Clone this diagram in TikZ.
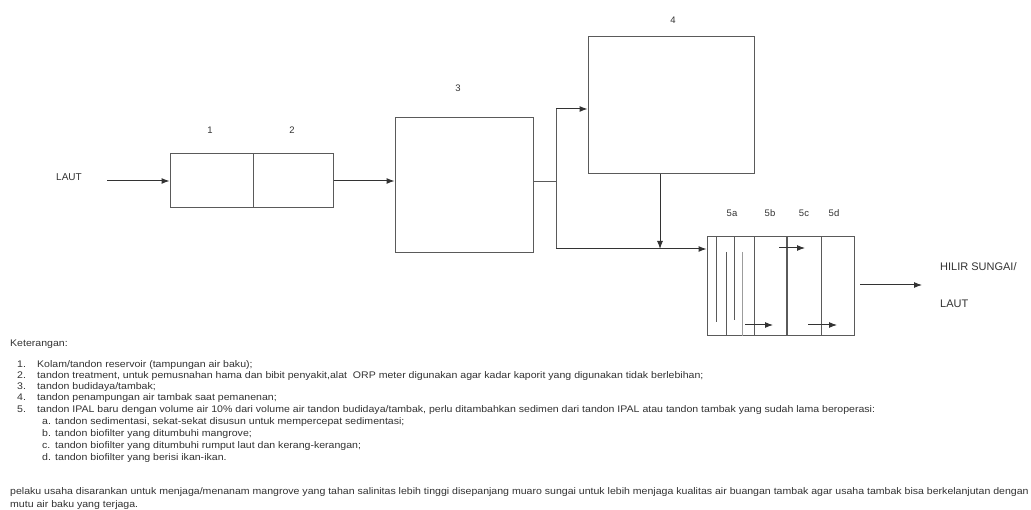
\documentclass[tikz,border=0pt]{standalone}
\usepackage{fontspec}
\setmainfont{Liberation Sans}
\newfontfamily\widesans[FakeStretch=1.1]{Liberation Sans}
\usetikzlibrary{arrows.meta}
\definecolor{linec}{HTML}{5A5A5A}
\definecolor{arrc}{HTML}{333333}
\definecolor{txtc}{HTML}{333333}
\begin{document}
\begin{tikzpicture}[x=1pt,y=-1pt,
  box/.style={draw=linec, line width=1pt, inner sep=0pt},
  conn/.style={draw=linec, line width=1pt},
  arr/.style={draw=arrc, line width=1pt, -{Latex[length=8pt,width=6pt]}},
  lbl/.style={font=\fontsize{9.5}{11}\selectfont, text=txtc, inner sep=0pt},
  big/.style={font=\fontsize{11}{12}\selectfont, text=txtc, inner sep=0pt, anchor=west},
  txt/.style={font=\widesans\fontsize{9.6}{10}\selectfont, text=txtc, inner sep=0pt, anchor=base west},
  inner/.style={draw=linec, line width=0.8pt},
]
\fill[white] (0,0) rectangle (1031,510);
\useasboundingbox (0,0) rectangle (1031,510);

% boxes
\node[box, minimum width=83, minimum height=54] (b1) at (211.5,181) {};
\node[box, minimum width=80, minimum height=54] (b2) at (293,181) {};
\node[box, minimum width=138, minimum height=135] (b3) at (464,185.5) {};
\node[box, minimum width=166, minimum height=137] (b4) at (671,105.5) {};
\node[box, minimum width=147, minimum height=99] (b5) at (780.5,286.5) {};
\draw[linec, line width=1.5pt] (b1.north east) -- (b1.south east);

% labels
\node[lbl] (l1) at (210,130) {1};
\node[lbl] (l2) at (292,130) {2};
\node[lbl] (l3) at (458,88) {3};
\node[lbl] (l4) at (673,20) {4};
\node[lbl] (l5a) at (732,213) {5a};
\node[lbl] (l5b) at (770,213) {5b};
\node[lbl] (l5c) at (804,213) {5c};
\node[lbl] (l5d) at (834,213) {5d};
\node[lbl, font=\fontsize{10}{11}\selectfont] (laut) at (69,177) {LAUT};
\node[big] (hilir) at (940,267) {HILIR SUNGAI/};
\node[big] (laut2) at (940,304) {LAUT};

% connectors
\coordinate (s0) at (107,181);
\coordinate (j1) at (556,182);
\coordinate (jt) at (556,109);
\coordinate (jb) at (556,249);
\coordinate (o1) at (860,285);
\coordinate (o2) at (922,285);
\draw[arr] (s0) -- (s0 -| b1.west);
\draw[arr] (b2.east |- s0) -- (s0 -| b3.west);
\draw[conn] (b3.east |- j1) -- (j1);
\draw[conn] (jt) -- (jb);
\draw[arr] (jt) -- (jt -| b4.west);
\draw[arr] (jb) -- (jb -| b5.west);
\draw[arr] ([xshift=-11pt]b4.south) -- ([xshift=-11pt]b4.south |- jb);
\draw[arr] (o1) -- (o2);

% inside box 5
\draw[inner] (716,237) -- (716,322);
\draw[inner] (726,252) -- (726,336);
\draw[inner] (734,237) -- (734,320);
\draw[inner, draw=linec!60] (742,252) -- (742,336);
\draw[inner] (754,237) -- (754,336);
\draw[linec, line width=1.8pt] (787,237) -- (787,336);
\draw[inner] (821,237) -- (821,336);
\draw[arr] (779,248) -- (805,248);
\draw[arr] (745,325) -- (773,325);
\draw[arr] (808,325) -- (837,325);

% legend text
\node[txt] (ket) at (10,346.5) {Keterangan:};
\node[txt] (n1) at (17,367.5) {1.};
\node[txt] (t1) at (37,367.5) {Kolam/tandon reservoir (tampungan air baku);};
\node[txt] (n2) at (17,378.5) {2.};
\node[txt] (t2) at (37,378.5) {tandon treatment, untuk pemusnahan hama dan bibit penyakit,alat\ \ ORP meter digunakan agar kadar kaporit yang digunakan tidak berlebihan;};
\node[txt] (n3) at (17,389.5) {3.};
\node[txt] (t3) at (37,389.5) {tandon budidaya/tambak;};
\node[txt] (n4) at (17,400.5) {4.};
\node[txt] (t4) at (37,400.5) {tandon penampungan air tambak saat pemanenan;};
\node[txt] (n5) at (17,412.5) {5.};
\node[txt] (t5) at (37,412.5) {tandon IPAL baru dengan volume air 10\% dari volume air tandon budidaya/tambak, perlu ditambahkan sedimen dari tandon IPAL atau tandon tambak yang sudah lama beroperasi:};
\node[txt] (na) at (42,424.5) {a.};
\node[txt] (ta) at (55,424.5) {tandon sedimentasi, sekat-sekat disusun untuk mempercepat sedimentasi;};
\node[txt] (nb) at (42,436.5) {b.};
\node[txt] (tb) at (55,436.5) {tandon biofilter yang ditumbuhi mangrove;};
\node[txt] (nc) at (42,448.5) {c.};
\node[txt] (tc) at (55,448.5) {tandon biofilter yang ditumbuhi rumput laut dan kerang-kerangan;};
\node[txt] (nd) at (42,460.5) {d.};
\node[txt] (td) at (55,460.5) {tandon biofilter yang berisi ikan-ikan.};
\node[txt] (p1) at (10,494.5) {pelaku usaha disarankan untuk menjaga/menanam mangrove yang tahan salinitas lebih tinggi disepanjang muaro sungai untuk lebih menjaga kualitas air buangan tambak agar usaha tambak bisa berkelanjutan dengan};
\node[txt] (p2) at (10,507) {mutu air baku yang terjaga.};
\end{tikzpicture}
\end{document}
